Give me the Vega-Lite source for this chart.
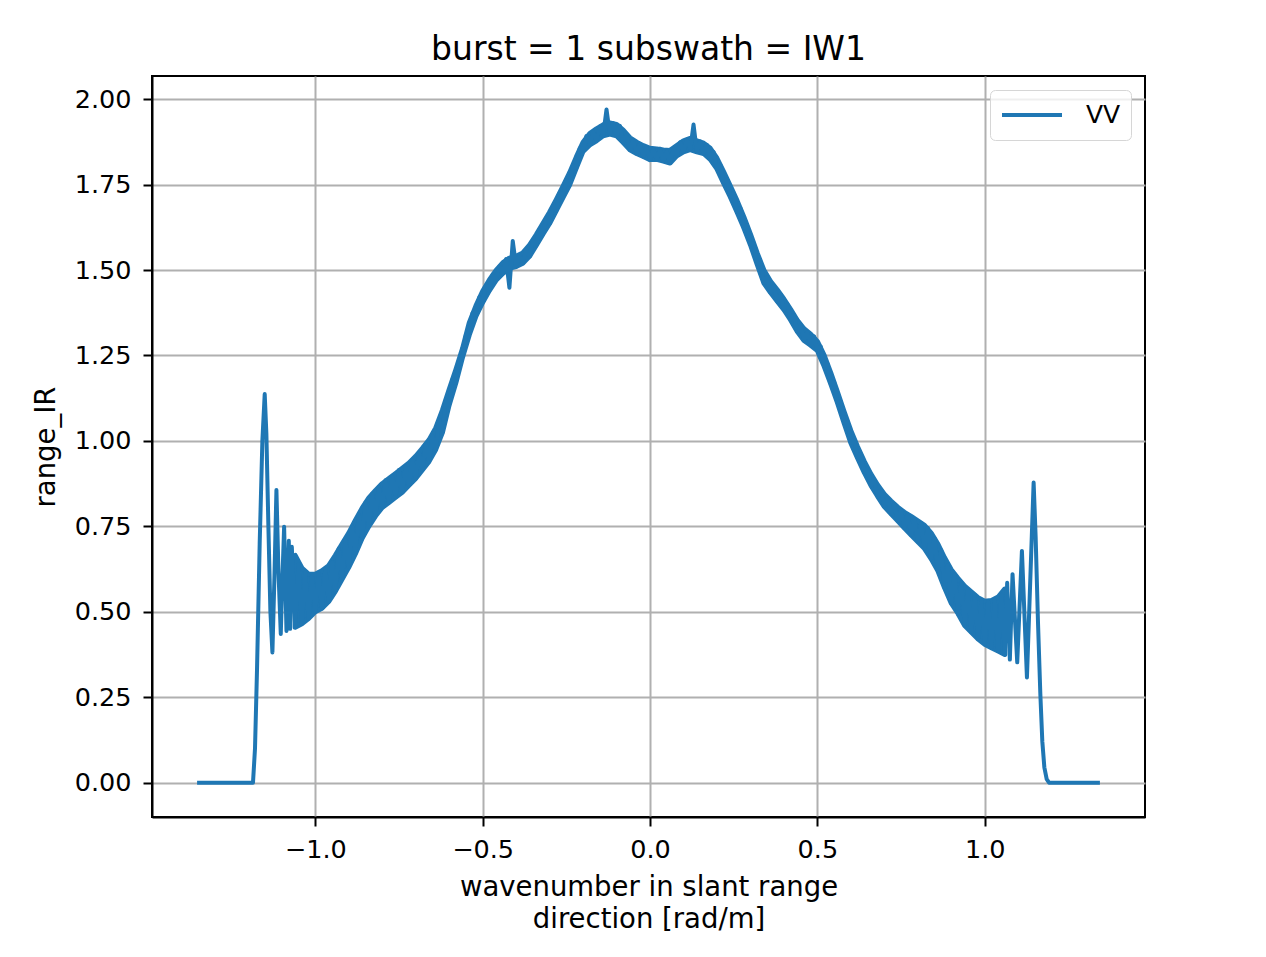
{
"$schema": "https://vega.github.io/schema/vega-lite/v6.json",
"width": 993,
"height": 741,
"autosize": "none",
"padding": {"left": 152, "top": 76, "right": 121, "bottom": 140},
"background": "white",
"title": {"text": "burst = 1 subswath = IW1", "font": "DejaVu Sans", "fontSize": 33, "fontWeight": "normal", "color": "black", "anchor": "middle", "offset": 9},
"datasets": {
"band": [
{"k":-1.06,"lo":0.455,"hi":0.665},{"k":-1.04,"lo":0.465,"hi":0.628},{"k":-1.02,"lo":0.48,"hi":0.61},{"k":-1.0,"lo":0.5,"hi":0.61},{"k":-0.98,"lo":0.51,"hi":0.62},{"k":-0.96,"lo":0.53,"hi":0.635},{"k":-0.94,"lo":0.56,"hi":0.665},{"k":-0.92,"lo":0.595,"hi":0.698},{"k":-0.9,"lo":0.63,"hi":0.73},{"k":-0.88,"lo":0.67,"hi":0.768},
{"k":-0.86,"lo":0.715,"hi":0.803},{"k":-0.84,"lo":0.75,"hi":0.833},{"k":-0.82,"lo":0.78,"hi":0.855},{"k":-0.8,"lo":0.805,"hi":0.875},{"k":-0.78,"lo":0.82,"hi":0.89},{"k":-0.76,"lo":0.835,"hi":0.905},{"k":-0.74,"lo":0.85,"hi":0.92},{"k":-0.72,"lo":0.87,"hi":0.935},{"k":-0.7,"lo":0.89,"hi":0.955},{"k":-0.68,"lo":0.915,"hi":0.978},
{"k":-0.66,"lo":0.94,"hi":1.003},{"k":-0.64,"lo":0.975,"hi":1.038},{"k":-0.62,"lo":1.025,"hi":1.09},{"k":-0.6,"lo":1.105,"hi":1.15},{"k":-0.58,"lo":1.17,"hi":1.208},{"k":-0.56,"lo":1.245,"hi":1.27},{"k":-0.54,"lo":1.31,"hi":1.345},{"k":-0.52,"lo":1.365,"hi":1.395},{"k":-0.5,"lo":1.405,"hi":1.438},{"k":-0.48,"lo":1.44,"hi":1.471},
{"k":-0.46,"lo":1.47,"hi":1.499},{"k":-0.44,"lo":1.49,"hi":1.521},{"k":-0.42,"lo":1.505,"hi":1.535},{"k":-0.4,"lo":1.51,"hi":1.54},{"k":-0.38,"lo":1.52,"hi":1.55},{"k":-0.36,"lo":1.54,"hi":1.573},{"k":-0.34,"lo":1.572,"hi":1.603},{"k":-0.32,"lo":1.605,"hi":1.636},{"k":-0.3,"lo":1.636,"hi":1.669},{"k":-0.28,"lo":1.674,"hi":1.706},
{"k":-0.26,"lo":1.712,"hi":1.745},{"k":-0.24,"lo":1.749,"hi":1.785},{"k":-0.22,"lo":1.799,"hi":1.831},{"k":-0.2,"lo":1.847,"hi":1.874},{"k":-0.18,"lo":1.866,"hi":1.899},{"k":-0.16,"lo":1.878,"hi":1.913},{"k":-0.14,"lo":1.893,"hi":1.925},{"k":-0.12,"lo":1.898,"hi":1.93},{"k":-0.1,"lo":1.893,"hi":1.926},{"k":-0.08,"lo":1.873,"hi":1.909},
{"k":-0.06,"lo":1.852,"hi":1.887},{"k":-0.04,"lo":1.841,"hi":1.874},{"k":-0.02,"lo":1.832,"hi":1.864},{"k":0.0,"lo":1.823,"hi":1.856},{"k":0.02,"lo":1.824,"hi":1.854},{"k":0.04,"lo":1.819,"hi":1.851},{"k":0.06,"lo":1.813,"hi":1.85},{"k":0.08,"lo":1.834,"hi":1.864},{"k":0.1,"lo":1.846,"hi":1.878},{"k":0.12,"lo":1.852,"hi":1.885},
{"k":0.14,"lo":1.846,"hi":1.878},{"k":0.16,"lo":1.841,"hi":1.871},{"k":0.18,"lo":1.824,"hi":1.856},{"k":0.2,"lo":1.796,"hi":1.827},{"k":0.22,"lo":1.754,"hi":1.787},{"k":0.24,"lo":1.714,"hi":1.746},{"k":0.26,"lo":1.67,"hi":1.703},{"k":0.28,"lo":1.624,"hi":1.656},{"k":0.3,"lo":1.574,"hi":1.605},{"k":0.32,"lo":1.517,"hi":1.55},
{"k":0.34,"lo":1.462,"hi":1.5},{"k":0.36,"lo":1.434,"hi":1.467},{"k":0.38,"lo":1.409,"hi":1.442},{"k":0.4,"lo":1.384,"hi":1.415},{"k":0.42,"lo":1.354,"hi":1.385},{"k":0.44,"lo":1.32,"hi":1.353},{"k":0.46,"lo":1.294,"hi":1.328},{"k":0.48,"lo":1.28,"hi":1.312},{"k":0.5,"lo":1.264,"hi":1.291},{"k":0.52,"lo":1.219,"hi":1.251},
{"k":0.54,"lo":1.167,"hi":1.199},{"k":0.56,"lo":1.112,"hi":1.143},{"k":0.58,"lo":1.052,"hi":1.085},{"k":0.6,"lo":0.994,"hi":1.03},{"k":0.62,"lo":0.95,"hi":0.983},{"k":0.64,"lo":0.908,"hi":0.94},{"k":0.66,"lo":0.87,"hi":0.903},{"k":0.68,"lo":0.838,"hi":0.871},{"k":0.7,"lo":0.808,"hi":0.844},{"k":0.72,"lo":0.787,"hi":0.824},
{"k":0.74,"lo":0.766,"hi":0.806},{"k":0.76,"lo":0.745,"hi":0.791},{"k":0.78,"lo":0.725,"hi":0.779},{"k":0.8,"lo":0.705,"hi":0.766},{"k":0.82,"lo":0.685,"hi":0.753},{"k":0.84,"lo":0.655,"hi":0.73},{"k":0.86,"lo":0.62,"hi":0.698},{"k":0.88,"lo":0.57,"hi":0.658},{"k":0.9,"lo":0.525,"hi":0.623},{"k":0.92,"lo":0.495,"hi":0.598},
{"k":0.94,"lo":0.46,"hi":0.575},{"k":0.96,"lo":0.44,"hi":0.558},{"k":0.98,"lo":0.42,"hi":0.541},{"k":1.0,"lo":0.405,"hi":0.531},{"k":1.02,"lo":0.395,"hi":0.533},{"k":1.04,"lo":0.385,"hi":0.543},{"k":1.06,"lo":0.375,"hi":0.567}
],
"line": [
{"k":-1.353,"v":0},{"k":-1.186,"v":0},{"k":-1.18,"v":0.1},{"k":-1.174,"v":0.33},{"k":-1.166,"v":0.7},{"k":-1.158,"v":1.0},{"k":-1.151,"v":1.137},{"k":-1.146,"v":1.02},{"k":-1.14,"v":0.75},{"k":-1.134,"v":0.5},{"k":-1.128,"v":0.381},{"k":-1.122,"v":0.6},{"k":-1.116,"v":0.856},{"k":-1.11,"v":0.62},{"k":-1.103,"v":0.435},{"k":-1.098,"v":0.6},{"k":-1.093,"v":0.749},{"k":-1.086,"v":0.444},{"k":-1.079,"v":0.708},{"k":-1.075,"v":0.45},
{"k":-1.07,"v":0.69},{"k":-1.06,"v":0.455},{"k":-1.05,"v":0.64},{"k":-1.04,"v":0.465},{"k":-1.03,"v":0.615},{"k":-1.02,"v":0.48},{"k":-1.01,"v":0.605},{"k":-1.0,"v":0.5},{"k":-0.99,"v":0.615},{"k":-0.98,"v":0.51},
{"k":-0.97,"v":0.625},{"k":-0.96,"v":0.53},{"k":-0.95,"v":0.645},{"k":-0.94,"v":0.56},{"k":-0.93,"v":0.685},{"k":-0.92,"v":0.595},{"k":-0.91,"v":0.71},{"k":-0.9,"v":0.63},{"k":-0.89,"v":0.75},{"k":-0.88,"v":0.67},
{"k":-0.87,"v":0.785},{"k":-0.86,"v":0.715},{"k":-0.85,"v":0.82},{"k":-0.84,"v":0.75},{"k":-0.83,"v":0.845},{"k":-0.82,"v":0.78},{"k":-0.81,"v":0.865},{"k":-0.8,"v":0.805},{"k":-0.79,"v":0.885},{"k":-0.78,"v":0.82},
{"k":-0.77,"v":0.895},{"k":-0.76,"v":0.835},{"k":-0.75,"v":0.915},{"k":-0.74,"v":0.85},{"k":-0.73,"v":0.925},{"k":-0.72,"v":0.87},{"k":-0.71,"v":0.945},{"k":-0.7,"v":0.89},{"k":-0.69,"v":0.965},{"k":-0.68,"v":0.915},
{"k":-0.67,"v":0.99},{"k":-0.66,"v":0.94},{"k":-0.65,"v":1.015},{"k":-0.64,"v":0.975},{"k":-0.63,"v":1.06},{"k":-0.62,"v":1.025},{"k":-0.61,"v":1.12},{"k":-0.6,"v":1.105},{"k":-0.59,"v":1.18},{"k":-0.58,"v":1.17},
{"k":-0.57,"v":1.235},{"k":-0.56,"v":1.245},{"k":-0.55,"v":1.31},{"k":-0.54,"v":1.32},{"k":-0.53,"v":1.375},{"k":-0.52,"v":1.37},{"k":-0.51,"v":1.42},{"k":-0.5,"v":1.405},{"k":-0.49,"v":1.455},{"k":-0.48,"v":1.44},
{"k":-0.47,"v":1.487},{"k":-0.46,"v":1.47},{"k":-0.45,"v":1.51},{"k":-0.44,"v":1.49},{"k":-0.43,"v":1.532},{"k":-0.42,"v":1.448},{"k":-0.41,"v":1.585},{"k":-0.4,"v":1.51},{"k":-0.39,"v":1.54},{"k":-0.38,"v":1.52},
{"k":-0.37,"v":1.56},{"k":-0.36,"v":1.54},{"k":-0.35,"v":1.585},{"k":-0.34,"v":1.572},{"k":-0.33,"v":1.62},{"k":-0.32,"v":1.605},{"k":-0.31,"v":1.652},{"k":-0.3,"v":1.636},{"k":-0.29,"v":1.686},{"k":-0.28,"v":1.674},
{"k":-0.27,"v":1.726},{"k":-0.26,"v":1.712},{"k":-0.25,"v":1.763},{"k":-0.24,"v":1.749},{"k":-0.23,"v":1.806},{"k":-0.22,"v":1.799},{"k":-0.21,"v":1.856},{"k":-0.2,"v":1.847},{"k":-0.19,"v":1.892},{"k":-0.18,"v":1.866},
{"k":-0.17,"v":1.905},{"k":-0.16,"v":1.878},{"k":-0.15,"v":1.92},{"k":-0.14,"v":1.893},{"k":-0.13,"v":1.97},{"k":-0.12,"v":1.898},{"k":-0.11,"v":1.93},{"k":-0.1,"v":1.893},{"k":-0.09,"v":1.922},{"k":-0.08,"v":1.873},
{"k":-0.07,"v":1.895},{"k":-0.06,"v":1.852},{"k":-0.05,"v":1.878},{"k":-0.04,"v":1.841},{"k":-0.03,"v":1.869},{"k":-0.02,"v":1.832},{"k":-0.01,"v":1.859},{"k":0.0,"v":1.823},{"k":0.01,"v":1.853},{"k":0.02,"v":1.824},
{"k":0.03,"v":1.855},{"k":0.04,"v":1.819},{"k":0.05,"v":1.847},{"k":0.06,"v":1.813},{"k":0.07,"v":1.854},{"k":0.08,"v":1.834},{"k":0.09,"v":1.874},{"k":0.1,"v":1.846},{"k":0.11,"v":1.882},{"k":0.12,"v":1.852},
{"k":0.13,"v":1.926},{"k":0.14,"v":1.846},{"k":0.15,"v":1.876},{"k":0.16,"v":1.841},{"k":0.17,"v":1.866},{"k":0.18,"v":1.824},{"k":0.19,"v":1.845},{"k":0.2,"v":1.796},{"k":0.21,"v":1.808},{"k":0.22,"v":1.754},
{"k":0.23,"v":1.766},{"k":0.24,"v":1.714},{"k":0.25,"v":1.725},{"k":0.26,"v":1.67},{"k":0.27,"v":1.681},{"k":0.28,"v":1.624},{"k":0.29,"v":1.631},{"k":0.3,"v":1.574},{"k":0.31,"v":1.578},{"k":0.32,"v":1.517},
{"k":0.33,"v":1.521},{"k":0.34,"v":1.462},{"k":0.35,"v":1.479},{"k":0.36,"v":1.434},{"k":0.37,"v":1.454},{"k":0.38,"v":1.409},{"k":0.39,"v":1.429},{"k":0.4,"v":1.384},{"k":0.41,"v":1.401},{"k":0.42,"v":1.354},
{"k":0.43,"v":1.368},{"k":0.44,"v":1.32},{"k":0.45,"v":1.338},{"k":0.46,"v":1.294},{"k":0.47,"v":1.318},{"k":0.48,"v":1.28},{"k":0.49,"v":1.306},{"k":0.5,"v":1.264},{"k":0.51,"v":1.276},{"k":0.52,"v":1.219},
{"k":0.53,"v":1.226},{"k":0.54,"v":1.167},{"k":0.55,"v":1.172},{"k":0.56,"v":1.112},{"k":0.57,"v":1.114},{"k":0.58,"v":1.052},{"k":0.59,"v":1.056},{"k":0.6,"v":0.994},{"k":0.61,"v":1.004},{"k":0.62,"v":0.95},
{"k":0.63,"v":0.961},{"k":0.64,"v":0.908},{"k":0.65,"v":0.919},{"k":0.66,"v":0.87},{"k":0.67,"v":0.886},{"k":0.68,"v":0.838},{"k":0.69,"v":0.856},{"k":0.7,"v":0.808},{"k":0.71,"v":0.832},{"k":0.72,"v":0.787},
{"k":0.73,"v":0.815},{"k":0.74,"v":0.766},{"k":0.75,"v":0.797},{"k":0.76,"v":0.745},{"k":0.77,"v":0.785},{"k":0.78,"v":0.725},{"k":0.79,"v":0.772},{"k":0.8,"v":0.705},{"k":0.81,"v":0.76},{"k":0.82,"v":0.685},
{"k":0.83,"v":0.745},{"k":0.84,"v":0.655},{"k":0.85,"v":0.715},{"k":0.86,"v":0.62},{"k":0.87,"v":0.68},{"k":0.88,"v":0.57},{"k":0.89,"v":0.635},{"k":0.9,"v":0.525},{"k":0.91,"v":0.61},{"k":0.92,"v":0.495},
{"k":0.93,"v":0.585},{"k":0.94,"v":0.46},{"k":0.95,"v":0.565},{"k":0.96,"v":0.44},{"k":0.97,"v":0.55},{"k":0.98,"v":0.42},{"k":0.99,"v":0.532},{"k":1.0,"v":0.405},{"k":1.01,"v":0.53},{"k":1.02,"v":0.395},
{"k":1.03,"v":0.535},{"k":1.04,"v":0.385},{"k":1.05,"v":0.55},{"k":1.06,"v":0.375},
{"k":1.067,"v":0.585},{"k":1.075,"v":0.36},{"k":1.083,"v":0.61},{"k":1.097,"v":0.352},{"k":1.111,"v":0.678},{"k":1.126,"v":0.308},{"k":1.146,"v":0.878},{"k":1.152,"v":0.72},{"k":1.159,"v":0.47},{"k":1.166,"v":0.26},{"k":1.172,"v":0.12},{"k":1.178,"v":0.045},{"k":1.185,"v":0.01},{"k":1.192,"v":0},{"k":1.344,"v":0}
]
},
"encoding": {
"x": {"field": "k", "type": "quantitative",
 "scale": {"domain": [-1.4877, 1.4787], "nice": false, "zero": false},
 "axis": {"values": [-1, -0.5, 0, 0.5, 1], "format": ".1f", "labelExpr": "replace(datum.label, '-', '\u2212')", "labelPadding": 11, "labelFlush": false, "labelOverlap": false,
  "title": ["wavenumber in slant range", "direction [rad/m]"], "titlePadding": 11, "titleLineHeight": 32}}
},
"layer": [
{"data": {"name": "band"},
 "mark": {"type": "area", "color": "#1f77b4", "opacity": 1, "stroke": "#1f77b4", "strokeWidth": 5, "strokeJoin": "round"},
 "encoding": {
  "y": {"field": "lo", "type": "quantitative",
   "scale": {"domain": [-0.1005, 2.0677], "nice": false, "zero": false},
   "axis": {"values": [0, 0.25, 0.5, 0.75, 1, 1.25, 1.5, 1.75, 2], "format": ".2f", "labelPadding": 12, "labelFlush": false, "labelOverlap": false, "title": "range_IR", "titlePadding": 14}},
  "y2": {"field": "hi"}}},
{"data": {"name": "line"},
 "mark": {"type": "line", "strokeWidth": 4, "strokeJoin": "round", "strokeCap": "butt"},
 "encoding": {
  "y": {"field": "v", "type": "quantitative",
   "scale": {"domain": [-0.1005, 2.0677], "nice": false, "zero": false},
   "axis": {"values": [0, 0.25, 0.5, 0.75, 1, 1.25, 1.5, 1.75, 2], "format": ".2f", "labelPadding": 12, "labelFlush": false, "labelOverlap": false, "title": "range_IR", "titlePadding": 14}},
  "color": {"datum": "VV", "type": "nominal", "scale": {"range": ["#1f77b4"]},
   "legend": {"title": null, "orient": "top-right", "offset": 14, "padding": 10, "cornerRadius": 5, "strokeColor": "#d6d6d6", "fillColor": "rgba(255,255,255,0.8)",
    "symbolType": "stroke", "symbolSize": 3600, "symbolStrokeWidth": 4, "clipHeight": 30,
    "labelFont": "DejaVu Sans", "labelFontSize": 25, "labelOffset": 22, "labelColor": "black"}}}}
],
"config": {
"view": {"stroke": "black", "strokeWidth": 2},
"axis": {"labelFont": "DejaVu Sans", "labelFontSize": 25.5, "labelColor": "black", "titleFont": "DejaVu Sans", "titleFontSize": 27.5, "titleFontWeight": "normal", "titleColor": "black",
 "domainColor": "black", "domainWidth": 2, "tickColor": "black", "tickWidth": 2, "tickSize": 9, "gridColor": "#b0b0b0", "gridWidth": 2, "gridOpacity": 1}
}
}
